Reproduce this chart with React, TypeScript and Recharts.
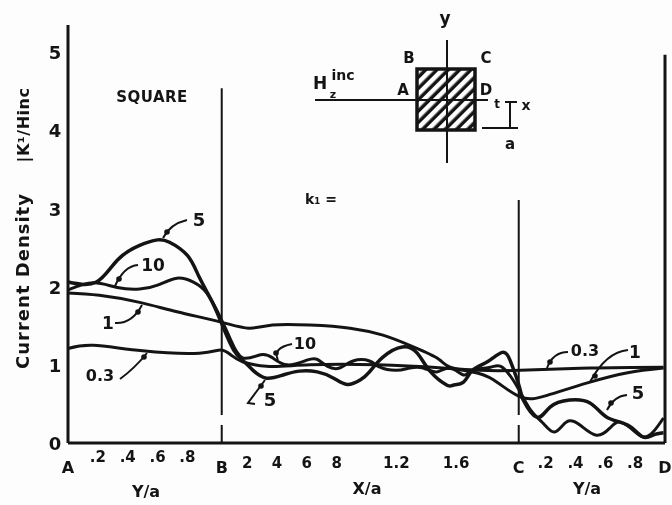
import React from "react";
import { LineChart, Line, XAxis, YAxis, ReferenceLine } from "recharts";

const x5 = [0,.19,.33,.48,.6,.68,.8,.88,.97,1.04,1.11,1.17,1.24,1.33,1.44,1.55,1.67,1.78,1.87,1.96,2.02,2.11,2.24,2.34,2.43,2.54,2.58,2.65,2.71,2.81,2.91,2.97,3.03,3.05,3.14,3.23,3.36,3.5,3.61,3.75,3.85,3.92,3.99];
const y5 = [2.06,2.06,2.34,2.53,2.6,2.57,2.4,2.12,1.79,1.48,1.19,1.06,.93,.83,.87,.92,.91,.83,.75,.81,.91,1.1,1.23,1.15,.91,.74,.74,.78,.93,1.04,1.16,1.02,.68,.55,.33,.46,.55,.51,.33,.23,.08,.1,.13];
const x10 = [0,.17,.33,.48,.6,.73,.84,.93,1.02,1.09,1.17,1.29,1.37,1.47,1.6,1.67,1.74,1.82,1.91,2.02,2.09,2.2,2.29,2.38,2.47,2.56,2.65,2.71,2.83,2.91,3.01,3.1,3.18,3.26,3.34,3.43,3.54,3.63,3.69,3.77,3.85,3.92,3.99];
const y10 = [1.96,2.05,1.99,1.97,2.02,2.11,2.06,1.92,1.61,1.32,1.09,1.13,1.09,1,1.06,1.07,.98,.96,1.05,1.05,.97,.93,.96,.96,.91,.96,.87,.93,.97,.97,.72,.42,.26,.14,.27,.23,.1,.19,.27,.19,.08,.14,.32];
const x1 = [0,.21,.48,.73,1.02,1.21,1.37,1.62,1.89,2.11,2.29,2.47,2.56,2.71,2.85,3.03,3.21,3.48,3.75,3.99];
const y1 = [1.92,1.89,1.8,1.68,1.55,1.47,1.51,1.51,1.47,1.38,1.25,1.09,.97,.91,.81,.59,.61,.77,.9,.96];
const x03 = [0,.17,.5,.88,1.02,1.09,1.17,1.35,1.62,2.07,2.51,2.76,3.03,3.5,3.99];
const y03 = [1.21,1.25,1.18,1.15,1.19,1.13,1.04,.98,1,1,.96,.93,.93,.96,.97];

const xTicks = [0,.2,.4,.6,.8,1.03,1.2,1.4,1.6,1.8,2.2,2.6,3.02,3.2,3.4,3.6,3.8,4];
const xTickLabels = ["A",".2",".4",".6",".8","B","2","4","6","8","1.2","1.6","C",".2",".4",".6",".8","D"];
const yTicks = [0,1,2,3,4,5];

const zip = (xs: number[], ys: number[]) => xs.map((x, i) => ({ x, y: ys[i] }));
const INK = "#141414";
const FONT = "'DejaVu Sans', sans-serif";

const XTick = ({ x, payload }: any) => {
  const label = xTickLabels[xTicks.indexOf(payload.value)];
  const letter = /[A-D]/.test(label);
  const base = payload.value < 1 ? 462 : 468;
  return (
    <text x={x} y={letter ? 473 : base} textAnchor="middle" fontFamily={FONT} fontWeight={700} fontSize={letter ? 16 : 15} fill={INK}>
      {label}
    </text>
  );
};

const YTick = ({ y, payload }: any) => (
  <text x={55} y={y + 7} textAnchor="middle" fontFamily={FONT} fontWeight={700} fontSize={18} fill={INK}>
    {payload.value}
  </text>
);

const T = ({ x, y, size = 15, children, anchor = "middle", weight = 700, spacing = 0 }: any) => (
  <text x={x} y={y} fontSize={size} textAnchor={anchor} fontWeight={weight} fontFamily={FONT} fill={INK} letterSpacing={spacing}>{children}</text>
);

const leaders = [
  "M163 238 Q170 224 187 220",
  "M115 286 Q124 266 138 265",
  "M115 323 Q132 324 142 305",
  "M120 379 Q135 368 147 353",
  "M278 360 Q272 348 292 344",
  "M265 380 L248 403 L255 404",
  "M547 368 Q553 352 568 352",
  "M590 382 Q606 352 628 350",
  "M607 410 Q614 396 627 395",
];
const blobs = [[167,232],[119,279],[138,312],[144,357],[276,353],[261,386],[550,362],[595,376],[611,403]];

const Overlay = () => (
  <svg width={672} height={505} style={{ position: "absolute", left: 0, top: 0, pointerEvents: "none" }}>
    <defs>
      <pattern id="hatch" width="8" height="8" patternUnits="userSpaceOnUse" patternTransform="rotate(45)">
        <rect width="8" height="8" fill={INK} />
        <rect width="4.5" height="8" fill="#fff" />
      </pattern>
    </defs>
    {leaders.map((d, i) => <path key={i} d={d} fill="none" stroke={INK} strokeWidth={2} />)}
    {blobs.map(([cx, cy], i) => <circle key={i} cx={cx} cy={cy} r={2.8} fill={INK} />)}
    <T x={199} y={226} size={18}>5</T>
    <T x={153} y={271} size={17}>10</T>
    <T x={108} y={329} size={17}>1</T>
    <T x={100} y={381} size={16}>0.3</T>
    <T x={305} y={349} size={16}>10</T>
    <T x={270} y={406} size={18}>5</T>
    <T x={585} y={356} size={16}>0.3</T>
    <T x={635} y={358} size={17}>1</T>
    <T x={638} y={399} size={18}>5</T>
    <T x={152} y={102} size={15} spacing={0.5}>SQUARE</T>
    <T x={321} y={204} size={14}>k₁ =</T>
    <T x={146} y={497} size={16}>Y/a</T>
    <T x={367} y={494} size={16}>X/a</T>
    <T x={587} y={494} size={16}>Y/a</T>
    <g transform="translate(29 281) rotate(-90)"><T x={0} y={0} size={18} spacing={1}>Current  Density</T></g>
    <g transform="translate(29 125) rotate(-90)"><T x={0} y={0} size={16} spacing={0.5}>|K¹/Hinc</T></g>
    <rect x={417} y={69} width={58} height={61} fill="url(#hatch)" stroke={INK} strokeWidth={3.5} />
    <path d="M447 40 V163 M315 100 H488 M482 128 H518 M505 102 H517 M510 102 V128" stroke={INK} strokeWidth={2} fill="none" />
    <T x={445} y={24} size={17}>y</T>
    <T x={409} y={63} size={15}>B</T>
    <T x={486} y={63} size={15}>C</T>
    <T x={403} y={95} size={15}>A</T>
    <T x={486} y={95} size={15}>D</T>
    <T x={320} y={89} size={17}>H</T>
    <T x={343} y={80} size={14}>inc</T>
    <T x={333} y={98} size={11}>z</T>
    <T x={497} y={108} size={12}>t</T>
    <T x={526} y={110} size={14}>x</T>
    <T x={510} y={149} size={15}>a</T>
  </svg>
);

export default function App() {
  return (
    <div style={{ position: "absolute", left: 0, top: 0, width: 672, height: 505, background: "#fdfdfd", filter: "blur(0.5px)" }}>
      <LineChart width={672} height={505} margin={{ top: 25, right: 7, bottom: 0, left: 0 }}>
        <XAxis type="number" dataKey="x" domain={[0, 4]} ticks={xTicks} interval={0} height={62} tick={<XTick />} tickLine={false} axisLine={{ stroke: INK, strokeWidth: 3 }} />
        <YAxis type="number" dataKey="y" domain={[0, 5.35]} ticks={yTicks} interval={0} width={68} tick={<YTick />} tickLine={false} axisLine={{ stroke: INK, strokeWidth: 3 }} />
        <ReferenceLine segment={[{ x: 1.03, y: 4.54 }, { x: 1.03, y: 1.1 }]} stroke={INK} strokeWidth={2} />
        <ReferenceLine segment={[{ x: 1.03, y: 1.1 }, { x: 1.03, y: 0 }]} stroke={INK} strokeWidth={2} strokeDasharray="58 10" />
        <ReferenceLine segment={[{ x: 3.02, y: 3.11 }, { x: 3.02, y: 1.1 }]} stroke={INK} strokeWidth={2} />
        <ReferenceLine segment={[{ x: 3.02, y: 1.1 }, { x: 3.02, y: 0 }]} stroke={INK} strokeWidth={2} strokeDasharray="58 10" />
        <ReferenceLine segment={[{ x: 4, y: 4.97 }, { x: 4, y: 0 }]} stroke={INK} strokeWidth={3} />
        <Line data={zip(x03, y03)} dataKey="y" type="natural" stroke={INK} strokeWidth={3} dot={false} isAnimationActive={false} />
        <Line data={zip(x1, y1)} dataKey="y" type="natural" stroke={INK} strokeWidth={3} dot={false} isAnimationActive={false} />
        <Line data={zip(x10, y10)} dataKey="y" type="natural" stroke={INK} strokeWidth={3} dot={false} isAnimationActive={false} />
        <Line data={zip(x5, y5)} dataKey="y" type="natural" stroke={INK} strokeWidth={3.5} dot={false} isAnimationActive={false} />
      </LineChart>
      <Overlay />
    </div>
  );
}
